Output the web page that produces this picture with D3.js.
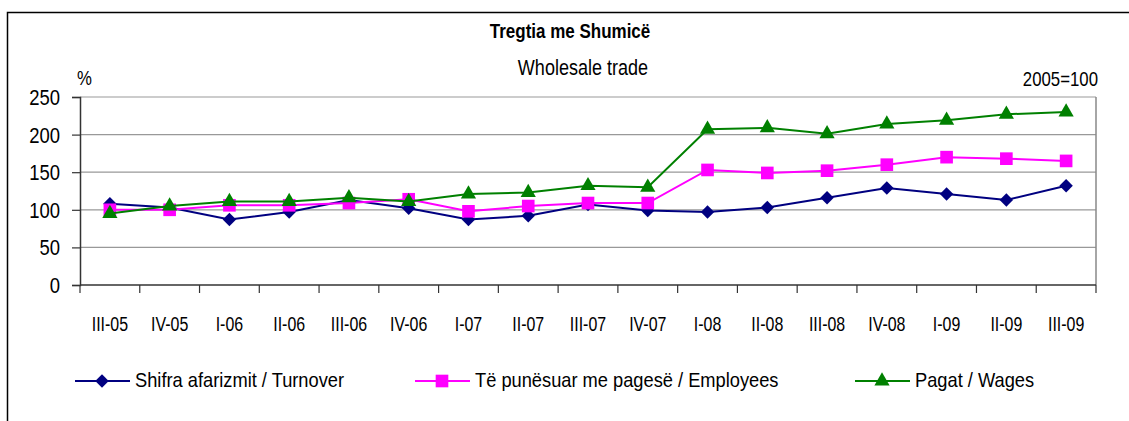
<!DOCTYPE html>
<html>
<head>
<meta charset="utf-8">
<script src="https://cdn.jsdelivr.net/npm/d3@7"></script>
<style>
  body { margin: 0; background: #fff; }
  svg { display: block; font-family: "Liberation Sans", Arial, sans-serif; }
</style>
</head>
<body>
<div id="chart"></div>
<script>
const quarters = ["III-05", "IV-05", "I-06", "II-06", "III-06", "IV-06", "I-07", "II-07", "III-07", "IV-07",
                  "I-08", "II-08", "III-08", "IV-08", "I-09", "II-09", "III-09"];
const turnover  = [108, 103, 87, 97, 113, 102, 87, 92, 107, 99, 97, 103, 116, 129, 121, 113, 132];
const employees = [100, 100, 106, 106, 109, 114, 98, 105, 109, 109, 153, 149, 152, 160, 170, 168, 165];
const wages     = [95, 105, 111, 111, 116, 111, 121, 123, 132, 130, 207, 209, 201, 214, 219, 227, 230];
const yTicks = [0, 50, 100, 150, 200, 250];

const series = [
  { name: "Shifra afarizmit / Turnover", values: turnover, color: "#000080", symbol: d3.symbolDiamond2, size: 115, lx: 75 },
  { name: "Të punësuar me pagesë / Employees", values: employees, color: "#ff00ff", symbol: d3.symbolSquare, size: 160, lx: 415 },
  { name: "Pagat / Wages", values: wages, color: "#008000", symbol: d3.symbolTriangle, size: 100, lx: 855 }
];

var width = 1129, height = 421;
var plotLeft = 80, plotRight = 1096, plotTop = 97, plotBottom = 285;

var svg = d3.select("#chart").append("svg")
    .attr("width", width)
    .attr("height", height);

// tall, narrow text like the original export
function label(g, str, x0, y0, size, sx, anchor, bold) {
    return g.append("text")
        .attr("transform", "translate(" + x0 + "," + y0 + ") scale(" + sx + ",1)")
        .attr("text-anchor", anchor || "start")
        .style("font-size", size + "px")
        .style("font-weight", bold ? "bold" : "normal")
        .attr("fill", "#000")
        .text(str);
}

// outer frame
svg.append("path")
    .attr("d", "M7.5," + height + "V12.5H" + width)
    .attr("fill", "none")
    .attr("stroke", "#000")
    .attr("stroke-width", 1.5);

var x = d3.scaleBand().domain(quarters).range([plotLeft, plotRight]);
var y = d3.scaleLinear().domain([0, 250]).range([plotBottom, plotTop]);

// gridlines
svg.append("g")
    .selectAll("line")
    .data(yTicks.slice(1))
    .enter().append("line")
    .attr("x1", plotLeft).attr("x2", plotRight)
    .attr("y1", function(d){ return y(d); })
    .attr("y2", function(d){ return y(d); })
    .attr("stroke", "#999")
    .attr("stroke-width", 1.2);

// right border of plot
svg.append("line")
    .attr("x1", plotRight).attr("x2", plotRight)
    .attr("y1", plotTop).attr("y2", plotBottom)
    .attr("stroke", "#888")
    .attr("stroke-width", 1.5);

// y axis
var yAxis = svg.append("g")
    .attr("transform", "translate(" + plotLeft + ",0)")
    .call(d3.axisLeft(y).tickValues(yTicks).tickSize(8).tickFormat(""));
yAxis.select(".domain").attr("stroke", "#333").attr("stroke-width", 1.5);
yAxis.selectAll(".tick line").attr("stroke", "#333").attr("stroke-width", 1.2);
yTicks.forEach(function(t) {
    label(svg, t, 60, y(t) + 8, 22, 0.84, "end");
});

// x axis: ticks between categories
var bandEdges = quarters.map(function(q){ return x(q); }).concat([plotRight]);
var xAxis = svg.append("g");
xAxis.append("line")
    .attr("x1", plotLeft).attr("x2", plotRight)
    .attr("y1", plotBottom).attr("y2", plotBottom)
    .attr("stroke", "#333")
    .attr("stroke-width", 1.5);
xAxis.selectAll(".xt")
    .data(bandEdges)
    .enter().append("line")
    .attr("class", "xt")
    .attr("x1", function(d){ return d; }).attr("x2", function(d){ return d; })
    .attr("y1", plotBottom).attr("y2", plotBottom + 8)
    .attr("stroke", "#333")
    .attr("stroke-width", 1.2);
quarters.forEach(function(q) {
    label(xAxis, q, x(q) + x.bandwidth() / 2, 331, 21, 0.76, "middle");
});

// lines and markers
var line = d3.line()
    .x(function(d, i){ return x(quarters[i]) + x.bandwidth() / 2; })
    .y(function(d){ return y(d); });

series.forEach(function(s) {
    svg.append("path")
        .datum(s.values)
        .attr("d", line)
        .attr("fill", "none")
        .attr("stroke", s.color)
        .attr("stroke-width", 2);

    svg.append("g")
        .selectAll("path")
        .data(s.values)
        .enter().append("path")
        .attr("d", d3.symbol().type(s.symbol).size(s.size))
        .attr("transform", function(d, i){
            return "translate(" + (x(quarters[i]) + x.bandwidth() / 2) + "," + y(d) + ")";
        })
        .attr("fill", s.color);
});

// titles
label(svg, "Tregtia me Shumicë", 570, 38, 20, 0.85, "middle", true);
label(svg, "Wholesale trade", 583, 75, 22, 0.82, "middle");
label(svg, "%", 77, 85, 20, 0.84, "start");
label(svg, "2005=100", 1098, 86, 20, 0.84, "end");

// legend
var legend = svg.selectAll(".legend")
    .data(series)
    .enter().append("g")
    .attr("class", "legend")
    .attr("transform", function(d){ return "translate(" + d.lx + ",381)"; });

legend.append("line")
    .attr("x1", 0).attr("x2", 55)
    .attr("stroke", function(d){ return d.color; })
    .attr("stroke-width", 2);
legend.append("path")
    .attr("d", function(d){ return d3.symbol().type(d.symbol).size(d.size)(); })
    .attr("transform", "translate(27,0)")
    .attr("fill", function(d){ return d.color; });
legend.each(function(d) {
    label(d3.select(this), d.name, 60, 6, 21, 0.87, "start");
});
</script>
</body>
</html>
